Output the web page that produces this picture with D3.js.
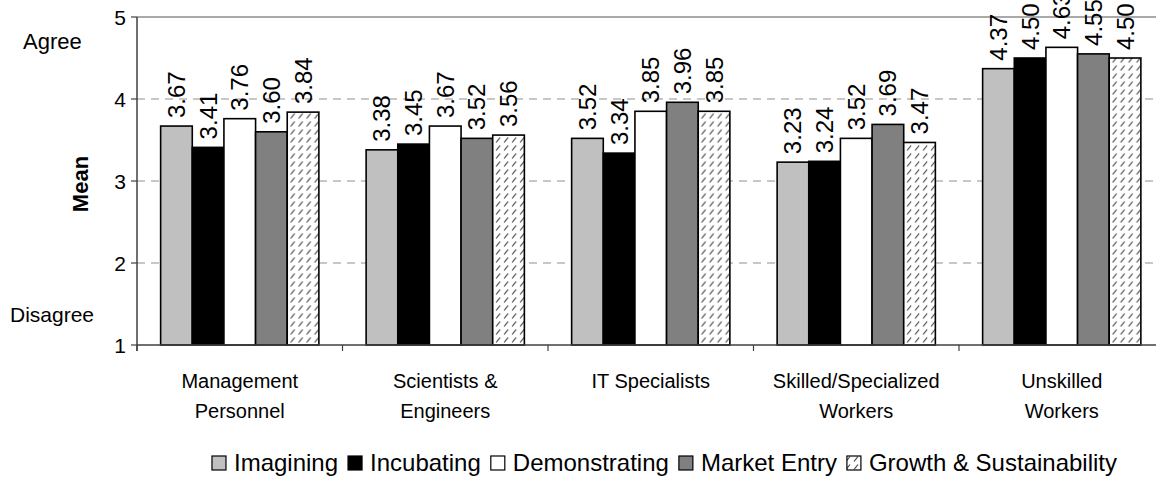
<!DOCTYPE html>
<html>
<head>
<meta charset="utf-8">
<script src="https://cdn.jsdelivr.net/npm/d3@7"></script>
<style>
  body { margin: 0; background: #fff; }
  svg { display: block; font-family: "Liberation Sans", Arial, sans-serif; }
</style>
</head>
<body>
<div id="chart"></div>
<script>
// categories and series
const categories = [
  ["Management", "Personnel"],
  ["Scientists &", "Engineers"],
  ["IT Specialists"],
  ["Skilled/Specialized", "Workers"],
  ["Unskilled", "Workers"]
];
const seriesNames = ["Imagining", "Incubating", "Demonstrating", "Market Entry", "Growth & Sustainability"];
const imagining = [3.67, 3.38, 3.52, 3.23, 4.37];
const incubating = [3.41, 3.45, 3.34, 3.24, 4.50];
const demonstrating = [3.76, 3.67, 3.85, 3.52, 4.63];
const marketEntry = [3.60, 3.52, 3.96, 3.69, 4.55];
const growth = [3.84, 3.56, 3.85, 3.47, 4.50];
const yTicks = [1, 2, 3, 4, 5];

const seriesValues = [imagining, incubating, demonstrating, marketEntry, growth];
const fills = ["#c0c0c0", "#000000", "#ffffff", "#808080", "url(#hatch)"];

const width = 1156, height = 499;
const svg = d3.select("#chart").append("svg")
  .attr("width", width)
  .attr("height", height);

// hatch pattern for the last series
const pat = svg.append("defs").append("pattern")
  .attr("id", "hatch")
  .attr("patternUnits", "userSpaceOnUse")
  .attr("width", 8)
  .attr("height", 8);
pat.append("rect").attr("width", 8).attr("height", 8).attr("fill", "#fff");
pat.append("path")
  .attr("d", "M2,6.5 L6,1.5")
  .attr("stroke", "#404040")
  .attr("stroke-width", 1.2);

const x0 = d3.scaleBand()
  .domain(d3.range(categories.length))
  .range([137, 137 + 5 * 205.5])
  .paddingInner(0.23)
  .paddingOuter(0.115);

const x = d3.scaleBand()
  .domain(d3.range(seriesNames.length))
  .range([0, x0.bandwidth()]);

const y = d3.scaleLinear().domain([1, 5]).range([345, 17]);

// gridlines
svg.append("g")
  .selectAll("line")
  .data(yTicks.filter(t => t > 1 && t < 5))
  .join("line")
  .attr("x1", 137).attr("x2", width)
  .attr("y1", d => y(d)).attr("y2", d => y(d))
  .attr("stroke", "#909090")
  .attr("stroke-dasharray", "8,6");

// top border
svg.append("line")
  .attr("x1", 137).attr("x2", width)
  .attr("y1", y(5)).attr("y2", y(5))
  .attr("stroke", "#8c8c8c")
  .attr("stroke-width", 1.5);

// bars
const groups = svg.append("g")
  .selectAll("g")
  .data(categories.map((c, i) => i))
  .join("g")
  .attr("transform", i => `translate(${x0(i)},0)`);

groups.selectAll("rect")
  .data(i => seriesValues.map((s, j) => ({ j, v: s[i] })))
  .join("rect")
  .attr("x", d => x(d.j))
  .attr("y", d => y(d.v))
  .attr("width", x.bandwidth())
  .attr("height", d => y(1) - y(d.v))
  .attr("fill", d => fills[d.j])
  .attr("stroke", "#000")
  .attr("stroke-width", 1.6);

groups.selectAll("text")
  .data(i => seriesValues.map((s, j) => ({ j, v: s[i] })))
  .join("text")
  .attr("transform", d => `translate(${x(d.j) + x.bandwidth() / 2 + 8.5},${y(d.v) - 8}) rotate(-90)`)
  .attr("font-size", 24)
  .attr("fill", "#000")
  .text(d => d.v.toFixed(2));

// x axis
const xTickPos = d3.range(categories.length + 1).map(i => 137 + i * x0.step());
svg.append("line")
  .attr("x1", 137).attr("x2", width)
  .attr("y1", y(1)).attr("y2", y(1))
  .attr("stroke", "#404040")
  .attr("stroke-width", 1.5);
svg.append("g")
  .selectAll("line")
  .data(xTickPos)
  .join("line")
  .attr("x1", d => d).attr("x2", d => d)
  .attr("y1", y(1)).attr("y2", y(1) + 6)
  .attr("stroke", "#404040")
  .attr("stroke-width", 1.2);

const catLabels = svg.append("g")
  .selectAll("text")
  .data(categories)
  .join("text")
  .attr("x", (d, i) => x0(i) + x0.bandwidth() / 2)
  .attr("y", 388)
  .attr("text-anchor", "middle")
  .attr("font-size", 20)
  .attr("fill", "#000");
catLabels.selectAll("tspan")
  .data(d => d)
  .join("tspan")
  .attr("x", function () { return this.parentNode.getAttribute("x"); })
  .attr("dy", (d, k) => k === 0 ? 0 : 30)
  .text(d => d);

// y axis
svg.append("line")
  .attr("x1", 137).attr("x2", 137)
  .attr("y1", y(5)).attr("y2", y(1) + 6)
  .attr("stroke", "#404040")
  .attr("stroke-width", 1.5);
const yAxis = svg.append("g")
  .selectAll("g")
  .data(yTicks)
  .join("g");
yAxis.append("line")
  .attr("x1", 131).attr("x2", 137)
  .attr("y1", d => y(d)).attr("y2", d => y(d))
  .attr("stroke", "#404040")
  .attr("stroke-width", 1.2);
yAxis.append("text")
  .attr("x", 126)
  .attr("y", d => y(d) + 7.5)
  .attr("text-anchor", "end")
  .attr("font-size", 21)
  .text(d => d);

svg.append("text")
  .attr("x", 23).attr("y", 49)
  .attr("font-size", 22)
  .text("Agree");
svg.append("text")
  .attr("x", 10).attr("y", 322)
  .attr("font-size", 21)
  .text("Disagree");
svg.append("text")
  .attr("transform", "translate(88,184) rotate(-90)")
  .attr("text-anchor", "middle")
  .attr("font-size", 22)
  .attr("font-weight", "bold")
  .text("Mean");

// legend, centred under the plot
const legend = svg.append("g").attr("transform", "translate(0,471)");
const items = [];
let lx = 0;
seriesNames.forEach((name, j) => {
  const sw = legend.append("rect")
    .attr("x", lx).attr("y", -15)
    .attr("width", 14).attr("height", 14)
    .attr("fill", fills[j])
    .attr("stroke", "#000")
    .attr("stroke-width", 1.2);
  const t = legend.append("text")
    .attr("x", lx + 22).attr("y", 0)
    .attr("font-size", 24)
    .text(name);
  lx += 22 + t.node().getComputedTextLength() + 10;
});
const legendWidth = lx - 10;
legend.attr("transform", `translate(${664.5 - legendWidth / 2},471)`);
</script>
</body>
</html>
